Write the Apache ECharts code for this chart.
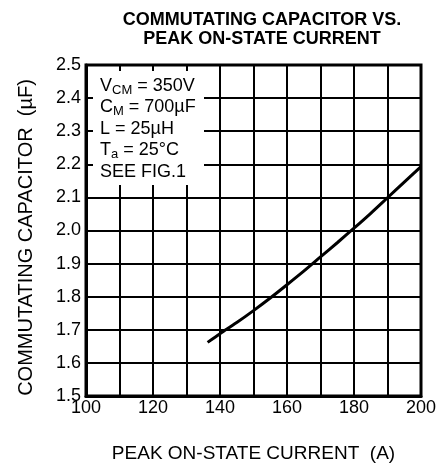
<!DOCTYPE html>
<html><head><meta charset="utf-8">
<script src="https://cdn.jsdelivr.net/npm/echarts@6/dist/echarts.min.js"></script>
<style>html,body{margin:0;padding:0;background:#fff}#c{width:440px;height:468px}</style>
</head><body><div id="c"></div>
<script>
const currentA = [136.3, 140, 145, 150, 155, 160, 165, 170, 175, 180, 185, 190, 195, 200];
const capacitanceUF = [1.662, 1.688, 1.722, 1.758, 1.796, 1.836, 1.877, 1.92, 1.963, 2.007, 2.052, 2.099, 2.146, 2.193];
const titleText = 'COMMUTATING CAPACITOR VS.\nPEAK ON-STATE CURRENT';
const xName = 'PEAK ON-STATE CURRENT  (A)';
const yName = 'COMMUTATING CAPACITOR  (µF)';
const conditions = ['V{s|CM} = 350V', 'C{s|M} = 700µF', 'L = 25µH', 'T{s|a} = 25°C', 'SEE FIG.1'];

const FONT = 'Liberation Sans, Arial, sans-serif';
const chart = echarts.init(document.getElementById('c'));
chart.setOption({
  backgroundColor: '#fff',
  animation: false,
  title: {
    text: titleText, left: 257, top: 6, textAlign: 'center',
    textStyle: {fontFamily: FONT, fontWeight: 'bold', fontSize: 18, lineHeight: 19, color: '#000'}
  },
  grid: {left: 86, right: 19, top: 65, bottom: 70, show: true, borderColor: '#000', borderWidth: 3, backgroundColor: 'transparent'},
  xAxis: {
    type: 'value', min: 100, max: 200, interval: 10,
    name: xName, nameLocation: 'middle', nameGap: 48,
    nameTextStyle: {fontFamily: FONT, fontSize: 19, color: '#000'},
    axisLine: {show: true, lineStyle: {color: '#000', width: 3}},
    axisTick: {show: false},
    axisLabel: {fontFamily: FONT, fontSize: 18, color: '#000', margin: 3,
      formatter: v => (v % 20 === 0 ? String(v) : '')},
    splitLine: {show: true, lineStyle: {color: '#000', width: 2}}
  },
  yAxis: {
    type: 'value', min: 1.5, max: 2.5, interval: 0.1,
    name: yName, nameLocation: 'middle', nameGap: 50,
    nameTextStyle: {fontFamily: FONT, fontSize: 20, color: '#000', padding: [0, 14, 0, 0]},
    axisLine: {show: true, lineStyle: {color: '#000', width: 3}},
    axisTick: {show: false},
    axisLabel: {fontFamily: FONT, fontSize: 18, color: '#000', margin: 5,
      formatter: v => v.toFixed(1)},
    splitLine: {show: true, lineStyle: {color: '#000', width: 2}}
  },
  graphic: [
    {type: 'rect', z: 100, shape: {x: 93, y: 71, width: 111, height: 114}, style: {fill: '#fff'}},
    {type: 'text', z: 101, left: 100, top: 75,
      style: {
        text: conditions.join('\n'),
        font: '18px ' + FONT, fill: '#000', lineHeight: 21.5,
        rich: {s: {fontSize: 13, fontFamily: FONT, fill: '#000', verticalAlign: 'bottom', lineHeight: 21.5}}
      }}
  ],
  series: [{
    type: 'line', data: currentA.map((x, i) => [x, capacitanceUF[i]]),
    smooth: 0.3, showSymbol: false, symbol: 'none',
    lineStyle: {color: '#000', width: 3}
  }]
});
</script></body></html>
